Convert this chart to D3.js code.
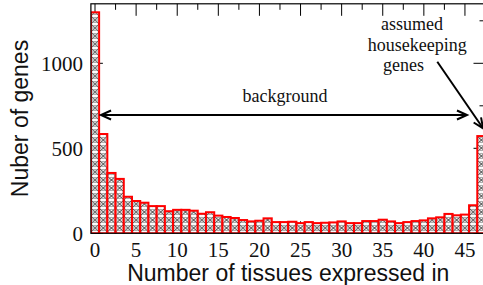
<!DOCTYPE html>
<html><head><meta charset="utf-8">
<script src="https://cdn.jsdelivr.net/npm/d3@7"></script>
<style>body{margin:0;background:#fff}svg{display:block}</style>
</head><body>
<svg id="c" width="483" height="285"></svg>
<script>
const tissues = d3.range(0, 48);
const geneCounts = [1300, 584, 355, 320, 215, 190, 180, 160, 160, 130,
  138, 138, 133, 115, 124, 104, 96, 90, 78, 70,
  74, 88, 66, 66, 68, 60, 66, 60, 62, 64,
  70, 60, 60, 72, 72, 80, 70, 60, 66, 72,
  76, 88, 94, 114, 106, 110, 165, 572];
const xTicks = [0, 5, 10, 15, 20, 25, 30, 35, 40, 45];
const yTicks = [0, 500, 1000];
const xMinor = d3.range(0, 47.6, 2.5);
const yMinor = [0, 250, 500, 750, 1000, 1250];

const svg = d3.select('#c');
const L = 90.9, R = 485.5, T = 3.8, B = 233.3;
const x = d3.scaleLinear().domain([-0.5, 47.5]).range([L, R]);
const y = d3.scaleLinear().domain([0, 1350]).range([B, T]);

const defs = svg.append('defs');
const pat = defs.append('pattern').attr('id', 'hatch').attr('patternUnits', 'userSpaceOnUse')
  .attr('width', 8.22).attr('height', 8).attr('x', L);
pat.append('rect').attr('width', 8.22).attr('height', 8).attr('fill', '#fff');
pat.append('path').attr('d', 'M0,0 L8.22,8 M8.22,0 L0,8').attr('stroke', '#222').attr('stroke-width', 0.9).attr('fill', 'none');
pat.append('circle').attr('cx', 4.11).attr('cy', 4).attr('r', 2.6).attr('fill', 'none').attr('stroke', '#555').attr('stroke-width', 0.6);

const clip = defs.append('clipPath').attr('id', 'pc');
clip.append('rect').attr('x', L).attr('y', T).attr('width', R - L).attr('height', B - T);

// ticks (inward) on all sides
const ax = svg.append('g').attr('stroke', '#000').attr('stroke-width', 1);
xMinor.forEach(v => {
  const major = v % 5 === 0, len = major ? 12 : 6, px = x(v);
  ax.append('line').attr('x1', px).attr('x2', px).attr('y1', T).attr('y2', T + len);
  ax.append('line').attr('x1', px).attr('x2', px).attr('y1', B).attr('y2', B - len);
});
yMinor.forEach(v => {
  const major = v % 500 === 0, len = major ? 12 : 6, py = y(v);
  ax.append('line').attr('x1', L).attr('x2', L + len).attr('y1', py).attr('y2', py);
  ax.append('line').attr('x1', R).attr('x2', R - len).attr('y1', py).attr('y2', py);
});

// bars
svg.append('g').attr('clip-path', 'url(#pc)').selectAll('rect').data(tissues).join('rect')
  .attr('x', d => x(d - 0.5)).attr('width', x(1) - x(0))
  .attr('y', d => y(geneCounts[d])).attr('height', d => B - y(geneCounts[d]))
  .attr('fill', 'url(#hatch)').attr('stroke', '#ff0000').attr('stroke-width', 2);

// frame
svg.append('rect').attr('x', L).attr('y', T).attr('width', R - L).attr('height', B - T)
  .attr('fill', 'none').attr('stroke', '#000').attr('stroke-width', 1.2);

// tick labels
const serif = '"Liberation Serif", "Times New Roman", serif';
svg.append('g').selectAll('text').data(xTicks).join('text')
  .attr('x', d => x(d)).attr('y', 256.7).attr('text-anchor', 'middle')
  .attr('font-family', serif).attr('font-size', 21).attr('fill', '#111').text(d => d);
svg.append('g').selectAll('text').data(yTicks).join('text')
  .attr('x', 83).attr('y', d => y(d) + 7.5).attr('text-anchor', 'end')
  .attr('font-family', serif).attr('font-size', 21).attr('fill', '#111').text(d => d);

// axis titles
const sans = '"Liberation Sans", Arial, sans-serif';
svg.append('text').attr('x', 288.3).attr('y', 281).attr('text-anchor', 'middle')
  .attr('font-family', sans).attr('font-size', 23).attr('fill', '#111').text('Number of tissues expressed in');
svg.append('text').attr('transform', 'translate(28,118.5) rotate(-90)').attr('text-anchor', 'middle')
  .attr('font-family', sans).attr('font-size', 23).attr('fill', '#111').text('Nuber of genes');

// arrows
function head(tipX, tipY, fromX, fromY) {
  const a = Math.atan2(tipY - fromY, tipX - fromX), len = 11, w = 0.42;
  const p1 = [tipX - len * Math.cos(a - w), tipY - len * Math.sin(a - w)];
  const p2 = [tipX - len * Math.cos(a + w), tipY - len * Math.sin(a + w)];
  return `M${p1[0]},${p1[1]} L${tipX},${tipY} L${p2[0]},${p2[1]}`;
}
const ag = svg.append('g').attr('stroke', '#000').attr('stroke-width', 2).attr('fill', 'none');
const ay = y(696);
const ax1 = x(0.73), ax2 = x(45.25);
ag.append('line').attr('x1', ax1).attr('x2', ax2).attr('y1', ay).attr('y2', ay);
ag.append('path').attr('d', head(ax1, ay, ax2, ay));
ag.append('path').attr('d', head(ax2, ay, ax1, ay));
const bx1 = 437.3, by1 = 61.7, bx2 = x(47.2), by2 = y(618);
ag.append('line').attr('x1', bx1).attr('y1', by1).attr('x2', bx2).attr('y2', by2);
ag.append('path').attr('d', head(bx2, by2, bx1, by1));

// annotation text
svg.append('text').attr('x', 285).attr('y', 102).attr('text-anchor', 'middle')
  .attr('font-family', serif).attr('font-size', 18).attr('fill', '#111').text('background');
const ann = [['assumed', 412, 30], ['housekeeping', 417.3, 50.5], ['genes', 403.5, 70.5]];
svg.append('g').selectAll('text').data(ann).join('text')
  .attr('x', d => d[1]).attr('y', d => d[2]).attr('text-anchor', 'middle')
  .attr('font-family', serif).attr('font-size', 18).attr('fill', '#111').text(d => d[0]);
</script>
</body></html>
